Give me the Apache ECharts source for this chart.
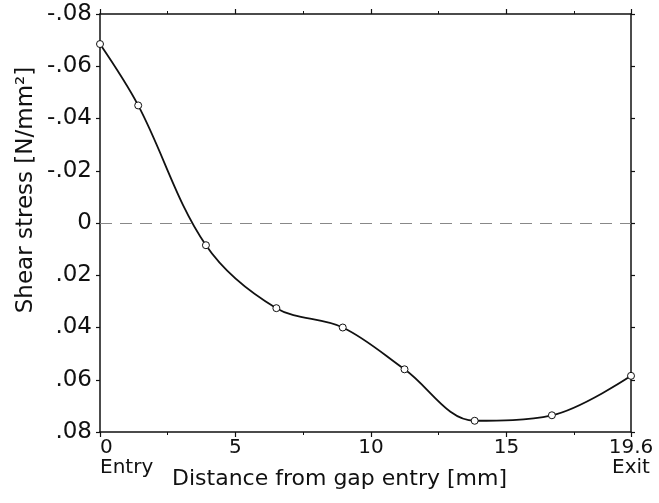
<!DOCTYPE html>
<html><head><meta charset="utf-8">
<script src="https://cdn.jsdelivr.net/npm/echarts@6/dist/echarts.min.js"></script>
<style>html,body{margin:0;padding:0;background:#fff}#c{width:659px;height:503px}</style>
</head><body><div id="c"></div>
<script>
// Data
const distance = [0, 1.41, 3.91, 6.51, 8.96, 11.24, 13.83, 16.68, 19.6];
const shearStress = [-0.0685, -0.045, 0.0085, 0.0326, 0.040, 0.056, 0.0757, 0.0736, 0.0585];
const xTickValues = [0, 5, 10, 15, 19.6];
const xTickTexts = ['0\nEntry', '5', '10', '15', '19.6\nExit'];
const yTickValues = [-0.08, -0.06, -0.04, -0.02, 0, 0.02, 0.04, 0.06, 0.08];
const yTickTexts = ['-.08', '-.06', '-.04', '-.02', '0', '.02', '.04', '.06', '.08'];

const FONT = 'DejaVu Sans';
const INK = '#111';

function lookup(values, texts, v) {
  for (let i = 0; i < values.length; i++) if (Math.abs(values[i] - v) < 1e-6) return texts[i];
  return '';
}

const chart = echarts.init(document.getElementById('c'), null, {renderer: 'canvas'});
const axisLineStyle = {color: INK, width: 1.5};
chart.setOption({
  animation: false,
  backgroundColor: '#fff',
  grid: {left: 100, right: 28, top: 14, bottom: 71, containLabel: false, outerBoundsMode: 'none'},
  xAxis: [{
    type: 'value', position: 'bottom', min: 0, max: 19.6, interval: 5,
    axisLine: {show: true, onZero: false, lineStyle: axisLineStyle},
    axisTick: {show: true, inside: false, length: 5, lineStyle: {color: INK, width: 1.2}},
    minorTick: {show: true, splitNumber: 2, length: 3, lineStyle: {color: INK, width: 1}},
    splitLine: {show: false},
    axisLabel: {
      show: true, margin: 6, color: INK, fontFamily: FONT, fontSize: 20, lineHeight: 20,
      alignMinLabel: 'left',
      formatter: v => lookup(xTickValues, xTickTexts, v)
    },
    name: 'Distance from gap entry [mm]', nameLocation: 'middle', nameGap: 36,
    nameMoveOverlap: false,
    nameTextStyle: {color: INK, fontFamily: FONT, fontSize: 22, padding: [0, 52, 0, 0]}
  }, {
    type: 'value', position: 'top', min: 0, max: 19.6, interval: 5,
    axisLine: {show: true, onZero: false, lineStyle: axisLineStyle},
    axisTick: {show: true, inside: false, length: 5, lineStyle: {color: INK, width: 1.2}},
    minorTick: {show: true, splitNumber: 2, length: 3, lineStyle: {color: INK, width: 1}},
    splitLine: {show: false}, axisLabel: {show: false}
  }],
  yAxis: [{
    type: 'value', position: 'left', inverse: true, min: -0.08, max: 0.08, interval: 0.02,
    axisLine: {show: true, onZero: false, lineStyle: axisLineStyle},
    axisTick: {show: true, inside: false, length: 4, lineStyle: {color: INK, width: 1.2}},
    splitLine: {show: false},
    axisLabel: {
      show: true, margin: 8, color: INK, fontFamily: FONT, fontSize: 23,
      formatter: v => lookup(yTickValues, yTickTexts, v)
    },
    name: 'Shear stress [N/mm²]', nameLocation: 'middle', nameRotate: 90, nameGap: 62,
    nameMoveOverlap: false,
    nameTextStyle: {color: INK, fontFamily: FONT, fontSize: 23, padding: [0, 0, 0, 66]}
  }, {
    type: 'value', position: 'right', inverse: true, min: -0.08, max: 0.08, interval: 0.02,
    axisLine: {show: true, onZero: false, lineStyle: axisLineStyle},
    axisTick: {show: true, inside: false, length: 4, lineStyle: {color: INK, width: 1.2}},
    splitLine: {show: false}, axisLabel: {show: false}
  }],
  series: [{
    type: 'line',
    xAxisIndex: 0, yAxisIndex: 0,
    data: distance.map((d, i) => [d, shearStress[i]]),
    smooth: 0.35,
    symbol: 'circle', symbolSize: 7,
    itemStyle: {color: '#fff', borderColor: INK, borderWidth: 1},
    lineStyle: {color: INK, width: 1.8},
    markLine: {
      silent: true, symbol: 'none', label: {show: false},
      lineStyle: {color: '#888', type: [12, 8], width: 1.2},
      data: [{yAxis: 0}]
    },
    z: 3
  }]
});
</script>
</body></html>
